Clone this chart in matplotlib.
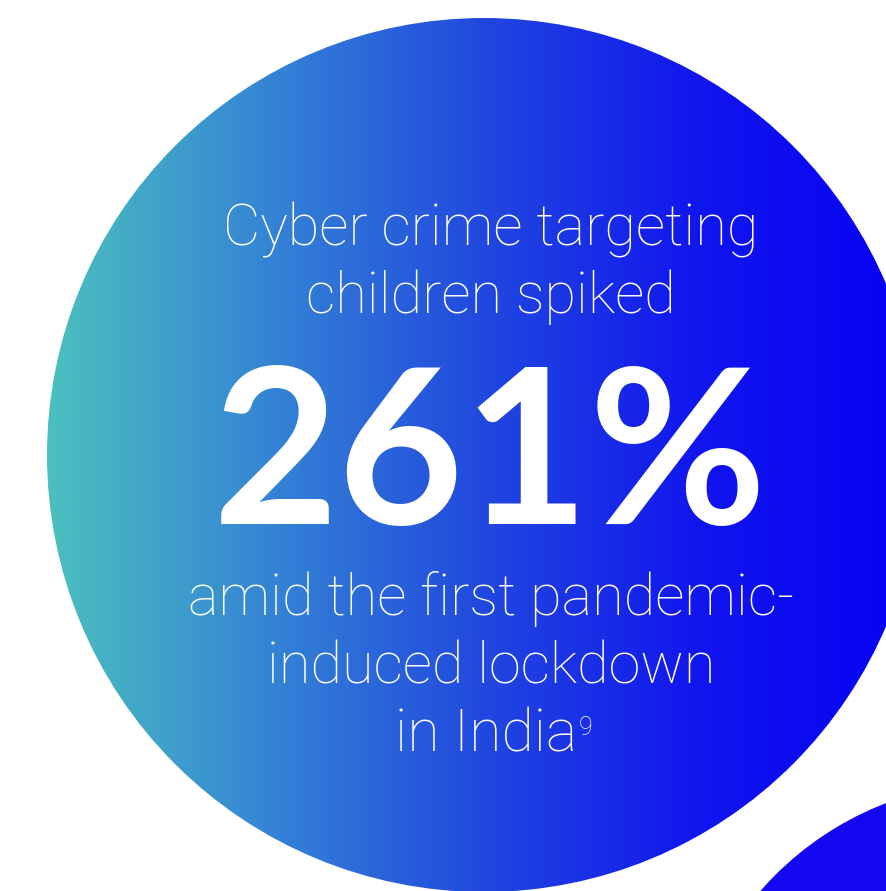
import numpy as np
import matplotlib.pyplot as plt
from matplotlib.patches import Circle
from matplotlib.colors import LinearSegmentedColormap

# gradient stops across the big circle (left -> right)
grad_pos = [0.0, 0.25, 0.5, 0.75, 1.0]
grad_colors = ['#4cc0bf', '#3585d4', '#2148df', '#1115ee', '#0600f3']

# big circle and small circle (pixel coords)
big_center = (484, 455)
big_radius = 437
small_center = (1000, 1100)
small_radius = 318
small_color = '#1508f0'

head_lines = ['Cyber crime targeting', 'children spiked']
head_y = [246, 313]
stat_text = '261%'
stat_y = 524
tail_lines = ['amid the first pandemic-', 'induced lockdown']
tail_y = [615, 683]
last_line = 'in India'
last_sup = '9'
last_y = 752

W, H = 886, 891
fig = plt.figure(figsize=(W / 100, H / 100), dpi=100)
ax = fig.add_axes([0, 0, 1, 1])
ax.set_xlim(0, W)
ax.set_ylim(H, 0)
ax.axis('off')

cmap = LinearSegmentedColormap.from_list('g', list(zip(grad_pos, grad_colors)))
x0 = big_center[0] - big_radius
x1 = big_center[0] + big_radius
grad = np.linspace(0, 1, 512).reshape(1, -1)
im = ax.imshow(grad, cmap=cmap, aspect='auto',
               extent=[x0, x1, big_center[1] + big_radius, big_center[1] - big_radius],
               interpolation='bilinear')
clip = Circle(big_center, big_radius, transform=ax.transData, facecolor='none', edgecolor='none')
ax.add_patch(clip)
im.set_clip_path(clip)

ax.add_patch(Circle(small_center, small_radius, facecolor=small_color, edgecolor='none'))

light = dict(family='Roboto', weight='light', color='white', ha='center', va='baseline')
for s, y in zip(head_lines, head_y):
    ax.text(491, y, s, fontsize=41.5, **light)
ax.text(490, stat_y, stat_text, fontsize=156, family='Lato', weight='bold',
        color='white', ha='center', va='baseline')
for s, y in zip(tail_lines, tail_y):
    ax.text(491, y, s, fontsize=41.5, **light)
t = ax.text(486, last_y, last_line, fontsize=42.5, **light)

fig.canvas.draw()
bb = t.get_window_extent().transformed(ax.transData.inverted())
ax.text(bb.x1 + 2, 735, last_sup, fontsize=18, family='Roboto', weight='light',
        color='white', ha='left', va='baseline')

fig.savefig('out.png', dpi=100)
